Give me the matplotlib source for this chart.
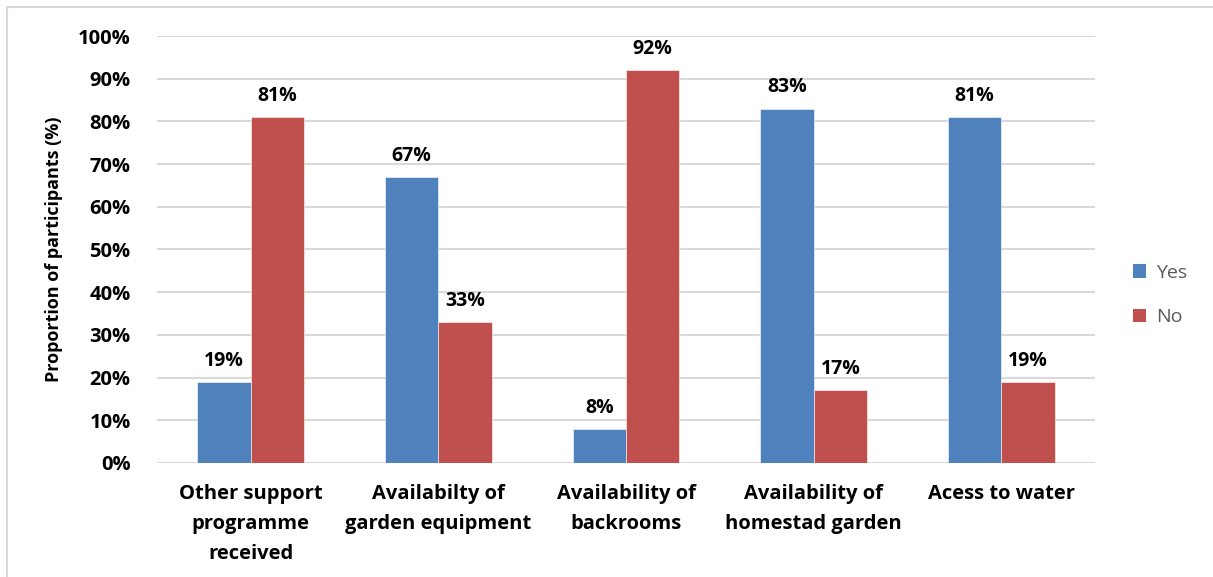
import matplotlib
matplotlib.use("Agg")
import matplotlib.pyplot as plt
import numpy as np
from matplotlib.lines import Line2D
from matplotlib.patches import Patch

categories = ["Other support\nprogramme\nreceived", "Availabilty of\ngarden equipment",
              "Availability of\nbackrooms", "Availability of\nhomestad garden", "Acess to water"]
yes_vals = [19, 67, 8, 83, 81]
no_vals = [81, 33, 92, 17, 19]
yticks = list(range(0, 101, 10))

plt.rcParams['font.family'] = ['Open Sans', 'DejaVu Sans']

fig = plt.figure(figsize=(12.13, 5.77), dpi=100)
ax = fig.add_axes([157/1213, 1-463/577, (1095-157)/1213, (463-36)/577])

x = np.arange(len(categories))
w = 0.285
blue = "#4F81BD"
red = "#C0504D"
b1 = ax.bar(x - w/2, yes_vals, w, color=blue, edgecolor="white", linewidth=0.4, zorder=3)
b2 = ax.bar(x + w/2, no_vals, w, color=red, edgecolor="white", linewidth=0.4, zorder=3)

for rects, vals in ((b1, yes_vals), (b2, no_vals)):
    for r, v in zip(rects, vals):
        ax.annotate(f"{v}%", (r.get_x() + r.get_width()/2, v), xytext=(0, 8),
                    textcoords="offset points", ha="center", va="bottom",
                    fontsize=14, fontweight="bold", color="black")

ax.set_xlim(-0.5, len(categories) - 0.5)
ax.set_ylim(0, 100)
ax.set_yticks(yticks)
ax.set_yticklabels([f"{t}%" for t in yticks], fontsize=14.5, fontweight="bold")
ax.set_xticks(x)
ax.set_xticklabels(categories, fontsize=14.5, fontweight="bold", linespacing=1.68, va="top")
ax.tick_params(axis="both", length=0)
ax.tick_params(axis="y", pad=19)
ax.tick_params(axis="x", pad=15)
ax.yaxis.grid(True, color="#D9D9D9", linewidth=1.5, zorder=0)
for s in ax.spines.values():
    s.set_visible(False)
ax.set_ylabel("Proportion of participants (%)", fontsize=13, fontweight="bold", labelpad=11)

handles = [Patch(facecolor=blue), Patch(facecolor=red)]
leg = fig.legend(handles, ["Yes", "No"], loc="center left", bbox_to_anchor=(1115/1213, 1-295/577),
                 frameon=False, fontsize=14, handlelength=0.7, handleheight=0.7,
                 labelspacing=1.35, handletextpad=0.5, labelcolor="#595959")

# outer frame (top and left)
fig.add_artist(Line2D([7/1213, 1], [1-7/577, 1-7/577], color="#D9D9D9", linewidth=1.5, transform=fig.transFigure))
fig.add_artist(Line2D([7/1213, 7/1213], [0, 1-7/577], color="#D9D9D9", linewidth=1.5, transform=fig.transFigure))

fig.savefig("out.png", dpi=100, facecolor="white")
